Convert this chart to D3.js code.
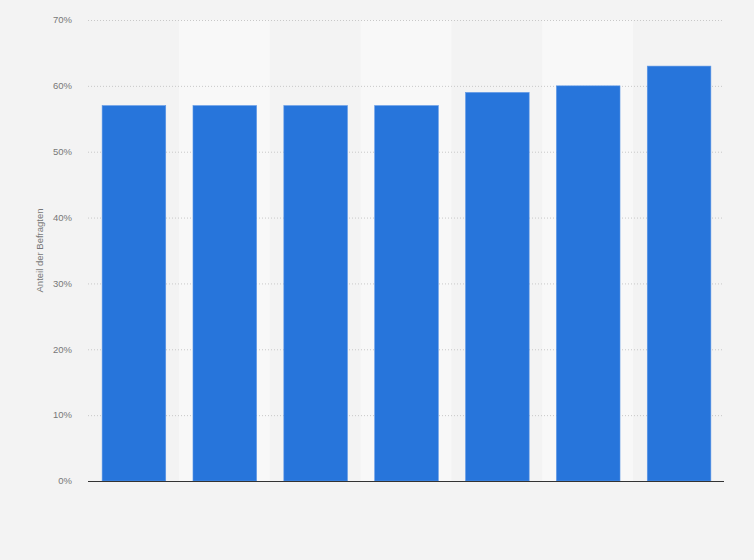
<!DOCTYPE html>
<meta charset="utf-8">
<script src="https://cdn.jsdelivr.net/npm/d3@7"></script>
<style>
  body { margin: 0; background: #f3f3f3; }
</style>
<div id="chart"></div>
<script>

// data (category labels are not shown in the chart)
var categories = ["1", "2", "3", "4", "5", "6", "7"];
var values = [57, 57, 57, 57, 59, 60, 63];
var yTicks = [0, 10, 20, 30, 40, 50, 60, 70];
var yTitle = "Anteil der Befragten";

var W = 754, H = 560;
var margin = {top: 20, right: 30, bottom: 79, left: 88},
  width = W - margin.left - margin.right,
  height = H - margin.top - margin.bottom;

var svg = d3.select("#chart")
  .append("svg")
    .attr("width", W)
    .attr("height", H)
    .style("background", "#f3f3f3")
    .style("font-family", "Arial, 'Liberation Sans', sans-serif");

var g = svg.append("g")
  .attr("transform", "translate(" + margin.left + "," + margin.top + ")");

var x = d3.scaleBand()
  .domain(categories)
  .range([0, width])
  .paddingInner(0.3)
  .paddingOuter(0.15);

var y = d3.scaleLinear()
  .domain([0, 70])
  .range([height, 0]);

// alternating light column bands
var step = x.step();
g.selectAll(".band")
  .data(categories.filter(function(d, i) { return i % 2 == 1; }))
  .enter()
  .append("rect")
    .attr("class", "band")
    .attr("x", function(d) { return x(d) + x.bandwidth() / 2 - step / 2; })
    .attr("y", 0)
    .attr("width", step)
    .attr("height", height)
    .style("fill", "#f8f8f8");

// gridlines
g.selectAll(".grid")
  .data(yTicks.filter(function(d) { return d > 0; }))
  .enter()
  .append("line")
    .attr("x1", 0)
    .attr("x2", width)
    .attr("y1", function(d) { return y(d) + 0.5; })
    .attr("y2", function(d) { return y(d) + 0.5; })
    .style("stroke", "#c8c8c8")
    .style("stroke-width", 1)
    .style("stroke-dasharray", "1,2");

// y tick labels
g.selectAll(".ytick")
  .data(yTicks)
  .enter()
  .append("text")
    .attr("x", -16)
    .attr("y", function(d) { return y(d); })
    .attr("dy", "0.35em")
    .style("text-anchor", "end")
    .style("font-size", "9.5px")
    .style("fill", "#777")
    .text(function(d) { return d + "%"; });

// bars
g.selectAll(".bar")
  .data(values)
  .enter()
  .append("rect")
    .attr("class", "bar")
    .attr("x", function(d, i) { return x(categories[i]) + 0.5; })
    .attr("y", function(d) { return y(d); })
    .attr("width", x.bandwidth())
    .attr("height", function(d) { return height - y(d); })
    .style("fill", "#2775db")
    .style("stroke", "#5d97e6")
    .style("stroke-width", 0.6);

// baseline
g.append("line")
  .attr("x1", 0)
  .attr("x2", width)
  .attr("y1", y(0) + 0.5)
  .attr("y2", y(0) + 0.5)
  .style("stroke", "#333")
  .style("stroke-width", 1.2);

// y axis title
svg.append("text")
  .attr("transform", "translate(43," + (margin.top + height / 2) + ") rotate(-90)")
  .style("text-anchor", "middle")
  .style("font-size", "9.5px")
  .style("fill", "#777")
  .text(yTitle);

</script>
